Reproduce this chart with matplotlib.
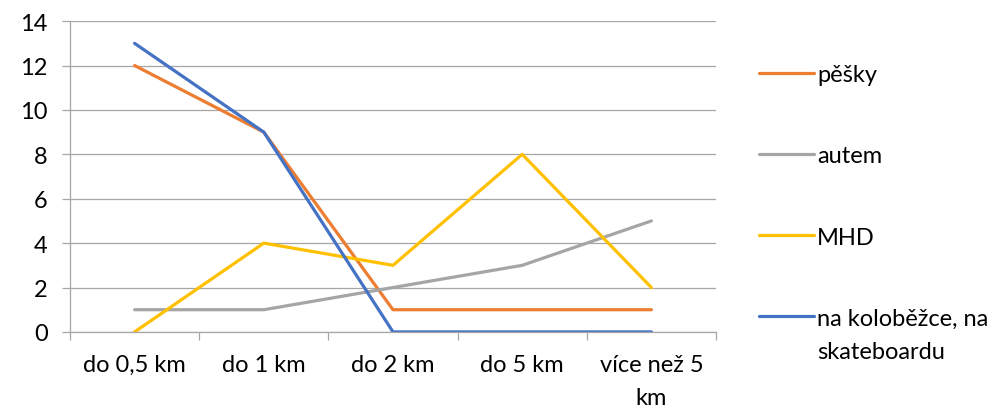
import matplotlib
matplotlib.use("Agg")
import matplotlib.pyplot as plt
from matplotlib.ticker import MultipleLocator, FixedLocator
from matplotlib.transforms import IdentityTransform

plt.rcParams['font.family'] = ['Lato', 'DejaVu Sans']

# Kategorie vzdáleností
categories = ['do 0,5 km', 'do 1 km', 'do 2 km', 'do 5 km', 'více než 5\nkm']

# Hodnoty jednotlivých řad
pesky = [12, 9, 1, 1, 1]
autem = [1, 1, 2, 3, 5]
mhd = [0, 4, 3, 8, 2]
kolobezka = [13, 9, 0, 0, 0]

series = [
    ('pěšky', pesky, '#ED7D31'),
    ('autem', autem, '#A5A5A5'),
    ('MHD', mhd, '#FFC000'),
    ('na koloběžce, na', kolobezka, '#4472C4'),
]
label_extra = 'skateboardu'  # druhý řádek poslední položky legendy

fig = plt.figure(figsize=(10, 4.1), dpi=100)
ax = fig.add_axes([0.07, 0.188, 0.646, 0.758])

x = list(range(len(categories)))
for name, vals, col in series:
    ax.plot(x, vals, color=col, lw=2.3, label=name, solid_capstyle='round')

ax.set_xlim(-0.5, len(categories) - 0.5)
ax.set_ylim(0, 14)
ax.yaxis.set_major_locator(MultipleLocator(2))
ax.grid(axis='y', color='#A6A6A6', lw=0.9)
ax.set_axisbelow(True)

ax.set_xticks(x)
ax.set_xticklabels(categories, linespacing=1.7)
ax.xaxis.set_minor_locator(FixedLocator([i - 0.5 for i in range(len(categories) + 1)]))
ax.tick_params(axis='x', which='major', length=0, pad=16, labelsize=17)
ax.tick_params(axis='x', which='minor', length=6, color='#A6A6A6', width=0.9)
ax.tick_params(axis='y', length=6, color='#A6A6A6', width=0.9, pad=10, labelsize=17)

for s in ['top', 'right']:
    ax.spines[s].set_visible(False)
for s in ['left', 'bottom']:
    ax.spines[s].set_color('#A6A6A6')
    ax.spines[s].set_linewidth(0.9)

leg = fig.legend(loc='upper left', bbox_to_anchor=(0.738, 0.893), frameon=False,
                 fontsize=17, handlelength=2.3, handletextpad=0.15, labelspacing=2.55)

# druhý řádek textu poslední položky legendy
fig.canvas.draw()
bb = leg.get_texts()[-1].get_window_extent()
fig.text(bb.x0, bb.y1 - 33, label_extra, fontsize=17, va='top', ha='left',
         transform=IdentityTransform())

fig.savefig('out.png', dpi=100)
